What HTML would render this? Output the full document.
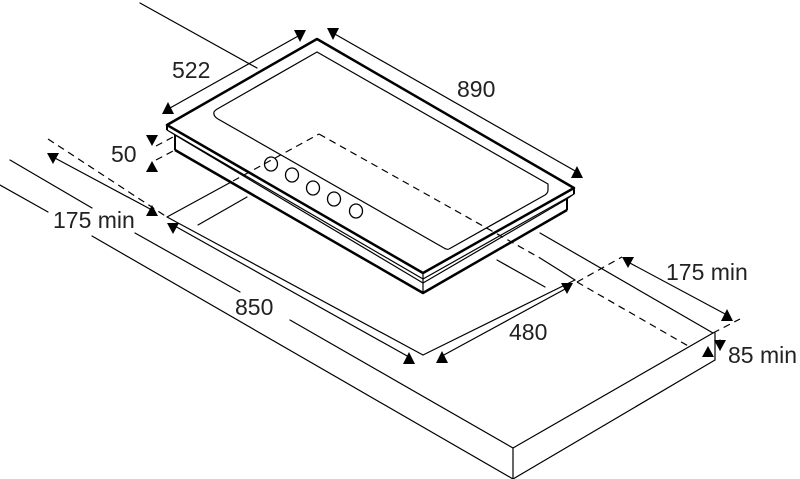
<!DOCTYPE html>
<html><head><meta charset="utf-8"><style>
html,body{margin:0;padding:0;background:#fff;}
svg{display:block;}
text{font-family:"Liberation Sans",sans-serif;font-size:23px;fill:#222;}
</style></head><body>
<svg width="800" height="479" viewBox="0 0 800 479" xmlns="http://www.w3.org/2000/svg">
<g stroke="#000" stroke-width="1.2" fill="none" stroke-linecap="round">
<line x1="140" y1="3" x2="257" y2="68"/>
<line x1="540" y1="233" x2="713" y2="333"/>
<line x1="10" y1="160" x2="92" y2="208"/>
<line x1="135" y1="233" x2="240" y2="292"/>
<line x1="290" y1="320" x2="513" y2="448"/>
<line x1="0" y1="185" x2="48" y2="212"/>
<line x1="92" y1="236" x2="513" y2="479"/>
<line x1="713" y1="333" x2="513" y2="448"/>
<line x1="715" y1="360" x2="513" y2="479"/>
<line x1="513" y1="448" x2="513" y2="479"/>
<line x1="715" y1="333" x2="715" y2="360"/>
<line x1="167" y1="217" x2="233" y2="181"/>
<line x1="198" y1="225" x2="247" y2="197"/>
<line x1="167" y1="217" x2="423" y2="355"/>
<line x1="423" y1="355" x2="575" y2="280"/>
<line x1="497" y1="260" x2="545" y2="287"/>
<line x1="540" y1="258" x2="575" y2="280"/>
<line x1="53" y1="157" x2="152" y2="210"/>
<line x1="173" y1="225" x2="409" y2="357"/>
<line x1="442" y1="356" x2="567" y2="288"/>
<line x1="628" y1="262" x2="727" y2="315"/>
<line x1="170" y1="108" x2="300" y2="35"/>
<line x1="333" y1="33" x2="577" y2="172"/>
<line x1="720" y1="340" x2="720" y2="350"/>
</g>
<!-- hob -->
<g stroke="#000" fill="#fff" stroke-linejoin="round">
<polygon points="167,125 317,39 574,188 574,194 567,199 567,210 423,293 175,150 175,135 167,130" stroke-width="1"/>
</g>
<g stroke="#000" fill="none" stroke-linejoin="round">
<polyline points="423,273 167,125 317,39 574,188 423,273" stroke-width="2.5"/>
<polyline points="175,150 423,293 567,210" stroke-width="2.5"/>
<line x1="167" y1="125" x2="167" y2="130" stroke-width="2"/>
<line x1="175" y1="135" x2="175" y2="150" stroke-width="2"/>
<line x1="574" y1="188" x2="574" y2="194" stroke-width="2"/>
<line x1="567" y1="199" x2="567" y2="210" stroke-width="2"/>
<line x1="167" y1="130" x2="423" y2="279" stroke-width="1.2"/>
<line x1="175" y1="135" x2="423" y2="283" stroke-width="1.2"/>
<line x1="423" y1="279" x2="574" y2="194" stroke-width="1.2"/>
<line x1="423" y1="283" x2="567" y2="199" stroke-width="1.2"/>
<line x1="423" y1="273" x2="423" y2="293" stroke-width="1.2"/>
<path d="M219,108 L317,52 L548,184 L548,190 Q548,193 545,195 L449,249 Q447,250 444,248 L218,119 Q213,116 214,112 Q215,110 219,108 Z" stroke-width="1.2"/>
<g stroke-width="1.3">
<ellipse cx="271" cy="164" rx="6.5" ry="7"/>
<ellipse cx="292" cy="175" rx="6.5" ry="7"/>
<ellipse cx="313" cy="188" rx="6.5" ry="7"/>
<ellipse cx="334" cy="199" rx="6.5" ry="7"/>
<ellipse cx="356" cy="211" rx="6.5" ry="7"/>
</g>
</g>
<g stroke="#000" stroke-width="1.2" fill="none" stroke-dasharray="7,5">
<line x1="48" y1="139" x2="167" y2="217"/>
<line x1="233" y1="181" x2="319" y2="134"/>
<line x1="319" y1="134" x2="540" y2="258"/>
<line x1="577" y1="282" x2="622" y2="257"/>
<line x1="577" y1="282" x2="690" y2="347"/>
<line x1="713" y1="333" x2="740" y2="319"/>
<line x1="156" y1="146" x2="175" y2="136"/>
<line x1="156" y1="160" x2="175" y2="150"/>
</g>
<g fill="#000">
<polygon points="294,30 306,30 300,42"/>
<polygon points="327,28 339,28 333,40"/>
<polygon points="162,114 174,114 168,102"/>
<polygon points="571,178 583,178 577,166"/>
<polygon points="146,135 158,135 152,146"/>
<polygon points="146,172 158,172 152,161"/>
<polygon points="47,153 59,153 53,164"/>
<polygon points="146,216 158,216 152,205"/>
<polygon points="167,223 179,223 173,234"/>
<polygon points="403,364 415,364 409,352"/>
<polygon points="436,363 448,363 442,351"/>
<polygon points="561,283 573,283 567,294"/>
<polygon points="622,257 634,257 628,268"/>
<polygon points="721,321 733,321 727,309"/>
<polygon points="714,340 726,340 720,351"/>
<polygon points="702,357 714,357 708,346"/>
</g>
<text x="172" y="78">522</text>
<text x="457" y="97">890</text>
<text x="111" y="162">50</text>
<text x="53" y="228">175 min</text>
<text x="235" y="315">850</text>
<text x="509" y="340">480</text>
<text x="666" y="280">175 min</text>
<text x="728" y="363">85 min</text>
</svg>
</body></html>
